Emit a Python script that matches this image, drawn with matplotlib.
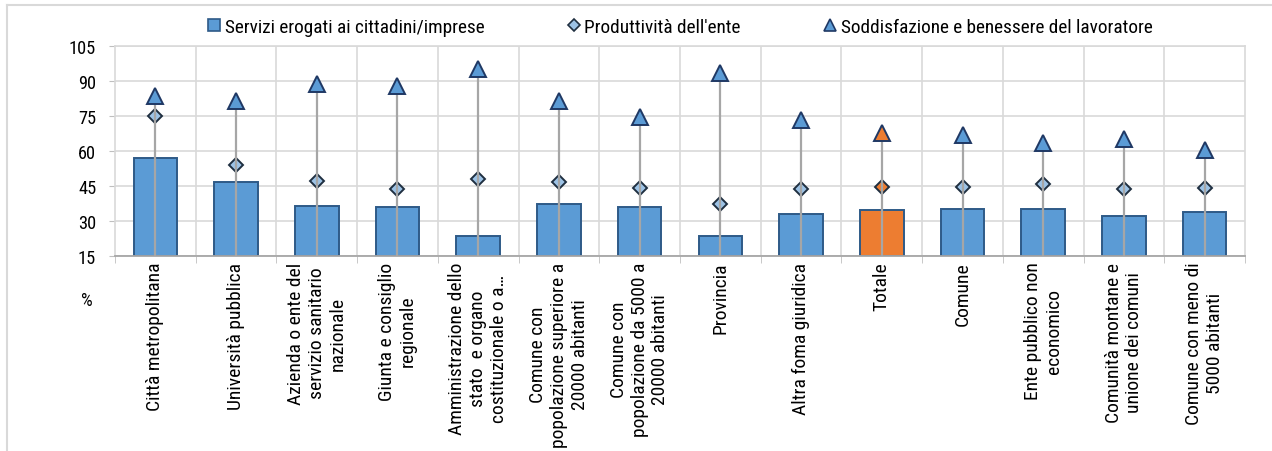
import numpy as np
import matplotlib
matplotlib.use("Agg")
import matplotlib.pyplot as plt
from matplotlib.lines import Line2D

# narrow grotesque like the original; falls back to Liberation Sans
plt.rcParams['font.family'] = ['Roboto Condensed', 'Liberation Sans', 'DejaVu Sans']

categories = [
    "Città metropolitana",
    "Università pubblica",
    "Azienda o ente del\nservizio sanitario\nnazionale",
    "Giunta e consiglio\nregionale",
    "Amministrazione dello\nstato  e organo\ncostituzionale o a\u2026",
    "Comune con\npopolazione superiore a\n20000 abitanti",
    "Comune con\npopolazione da 5000 a\n20000 abitanti",
    "Provincia",
    "Altra foma giuridica",
    "Totale",
    "Comune",
    "Ente pubblico non\neconomico",
    "Comunità montane e\nunione dei comuni",
    "Comune con meno di\n5000 abitanti",
]
servizi = [57.1, 46.6, 36.3, 35.8, 23.5, 37.3, 36.0, 23.7, 32.8, 34.8, 35.1, 35.1, 32.0, 34.0]
produttivita = [75.0, 54.2, 47.1, 43.7, 48.1, 46.7, 44.3, 37.3, 43.7, 44.6, 44.6, 46.0, 43.7, 44.0]
soddisfazione = [83.4, 81.6, 88.6, 87.7, 95.1, 81.6, 74.7, 93.6, 73.4, 67.7, 66.8, 63.4, 65.2, 60.6]
highlight = "Totale"
labels = ["Servizi erogati ai cittadini/imprese", "Produttività dell'ente",
          "Soddisfazione e benessere del lavoratore"]

BLUE = '#5B9BD5'
BLUE_EDGE = '#2E5A87'
ORANGE = '#ED7D31'
DIAM = '#9DC3E6'
DIAM_EDGE = '#1F2F40'
TRI_EDGE = '#1F3864'
GRID = '#D9D9D9'

W, H = 1272, 452
fig = plt.figure(figsize=(W/100, H/100), dpi=100)
rend = fig.canvas.get_renderer()

def fit_size(s, target_px):
    # font size that gives the wanted text width in pixels
    t = fig.text(0, 0, s, fontsize=10)
    w = t.get_window_extent(renderer=rend).width
    t.remove()
    return 10 * target_px / w

fs_leg = fit_size(labels[0], 258)
fs_x = fit_size(categories[0], 147)
fs_y = fit_size("105", 27)

ax = fig.add_axes([115/W, 1-257/H, (1245-115)/W, (257-47)/H])

x = np.arange(len(categories))
is_hi = [c == highlight for c in categories]
bar_cols = [ORANGE if h else BLUE for h in is_hi]
ax.bar(x, np.array(servizi) - 15, bottom=15, width=0.54, color=bar_cols,
       edgecolor=BLUE_EDGE, linewidth=1.4, zorder=2)

# diamonds
for i in range(len(x)):
    ax.plot(x[i], produttivita[i], 'D', ms=7.5, mfc=ORANGE if is_hi[i] else DIAM,
            mec=DIAM_EDGE, mew=1.4, zorder=3)
# vertical connector lines
ax.vlines(x, 15, soddisfazione, color='#A6A6A6', lw=1.6, zorder=4)
# triangles
for i in range(len(x)):
    ax.plot(x[i], soddisfazione[i], '^', ms=11, mfc=ORANGE if is_hi[i] else BLUE,
            mec=TRI_EDGE, mew=1.4, zorder=5)

ax.set_xlim(-0.5, len(x) - 0.5)
ax.set_ylim(15, 105)
ax.set_yticks(np.arange(15, 106, 15))
ax.tick_params(axis='y', labelsize=fs_y, length=4.5, color='#BFBFBF', pad=9)
ax.set_xticks(x)
ax.set_xticklabels(categories, rotation=90, fontsize=fs_x, ha='center', va='top',
                   multialignment='center')
ax.tick_params(axis='x', length=0, pad=4)
ax.set_xticks(np.arange(-0.5, len(x), 1), minor=True)
ax.tick_params(axis='x', which='minor', length=5, color='#BFBFBF')

for v in np.arange(0.5, len(x) - 0.5, 1):
    ax.axvline(v, color=GRID, lw=1.2, zorder=0)
ax.yaxis.grid(True, color=GRID, lw=1.2, zorder=0)
ax.set_axisbelow(True)
for s in ['left', 'top', 'right']:
    ax.spines[s].set_color(GRID)
    ax.spines[s].set_linewidth(1.2)
ax.spines['bottom'].set_color('#A6A6A6')
ax.spines['bottom'].set_linewidth(1.3)

fig.text(87/W, 1-301/H, '%', ha='center', va='center', fontsize=fs_y)

handles = [
    Line2D([], [], ls='none', marker='s', ms=9, mfc=BLUE, mec=BLUE_EDGE, mew=1.2),
    Line2D([], [], ls='none', marker='D', ms=6.5, mfc=DIAM, mec=DIAM_EDGE, mew=1.2),
    Line2D([], [], ls='none', marker='^', ms=9, mfc=BLUE, mec=TRI_EDGE, mew=1.2),
]
fig.legend(handles, labels, loc='center', bbox_to_anchor=(680/W, 1-28/H), ncol=3,
           frameon=False, fontsize=fs_leg, handlelength=0.7, handletextpad=0.2,
           columnspacing=4.3, borderpad=0)

# chart area border (top and left visible)
fig.add_artist(Line2D([7/W, 7/W], [0, 1-6/H], color=GRID, lw=1.5))
fig.add_artist(Line2D([7/W, 1], [1-6/H, 1-6/H], color=GRID, lw=1.5))

fig.savefig('out.png', dpi=100)
